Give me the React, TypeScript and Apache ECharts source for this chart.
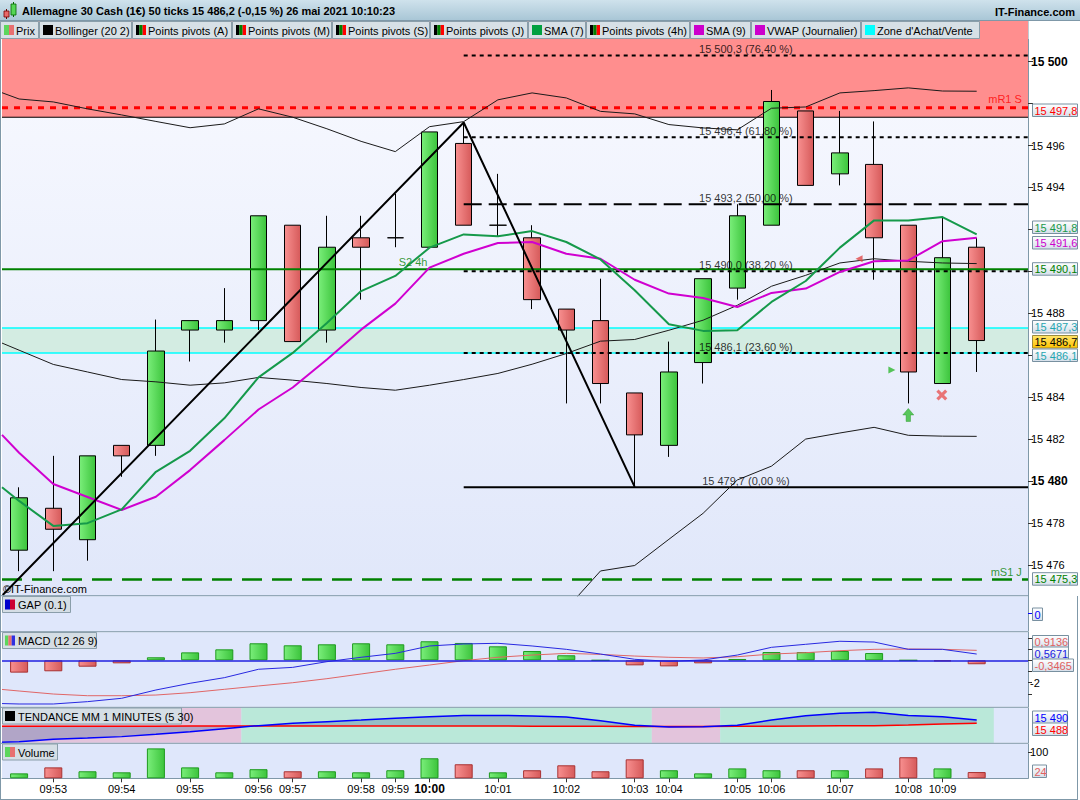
import React, { useEffect, useRef } from 'react';
import * as echarts from 'echarts';

const FONT = '"Liberation Sans", Arial, sans-serif';

// ---------- data ----------
const timeLabels = ['', '09:53', '', '09:54', '', '09:55', '', '09:56', '09:57', '', '09:58', '09:59', '10:00', '', '10:01', '', '10:02', '', '10:03', '10:04', '', '10:05', '10:06', '', '10:07', '', '10:08', '10:09', '', ''];

// [open, close, low, high]
const candles = [
  [15476.7, 15479.2, 15475.7, 15479.7],
  [15478.7, 15477.7, 15475.7, 15481.2],
  [15477.2, 15481.2, 15476.2, 15481.2],
  [15481.7, 15481.2, 15480.2, 15481.7],
  [15481.7, 15486.2, 15481.2, 15487.7],
  [15487.2, 15487.65, 15485.7, 15487.65],
  [15487.2, 15487.65, 15486.6, 15489.2],
  [15487.65, 15492.65, 15487.2, 15492.65],
  [15492.2, 15486.65, 15486.65, 15492.2],
  [15487.2, 15491.15, 15486.6, 15492.65],
  [15491.6, 15491.15, 15488.65, 15492.65],
  [15491.6, 15491.6, 15491.15, 15493.7],
  [15491.15, 15496.65, 15491.15, 15496.65],
  [15496.1, 15492.2, 15492.2, 15497.1],
  [15492.2, 15492.2, 15491.65, 15494.65],
  [15491.6, 15488.65, 15488.2, 15492.2],
  [15488.2, 15487.2, 15483.7, 15488.2],
  [15487.65, 15484.65, 15483.7, 15489.65],
  [15484.2, 15482.2, 15479.75, 15484.2],
  [15481.7, 15485.2, 15481.15, 15486.65],
  [15485.65, 15489.65, 15484.65, 15489.65],
  [15489.2, 15492.65, 15488.65, 15493.2],
  [15492.2, 15498.1, 15492.2, 15498.65],
  [15497.65, 15494.1, 15494.1, 15497.65],
  [15494.65, 15495.65, 15494.1, 15497.65],
  [15495.1, 15491.6, 15489.6, 15497.15],
  [15492.2, 15485.2, 15483.7, 15492.2],
  [15484.65, 15490.65, 15484.65, 15492.6],
  [15491.15, 15486.7, 15485.2, 15491.6],
];

const bollUpper = [15498.22, 15498.08, 15497.75, 15497.46, 15497.15, 15496.85, 15497.03, 15497.75, 15497.35, 15496.8, 15496.2, 15495.71, 15496.9, 15497.14, 15498.18, 15498.51, 15498.27, 15497.63, 15497.51, 15497.0, 15496.84, 15496.75, 15497.78, 15497.84, 15498.51, 15498.62, 15498.75, 15498.6, 15498.59];
const bollMiddle = [15486.24, 15485.56, 15485.2, 15484.84, 15484.73, 15484.57, 15484.68, 15484.94, 15484.81, 15484.65, 15484.46, 15484.33, 15484.57, 15484.84, 15485.13, 15485.57, 15486.08, 15486.67, 15486.75, 15487.19, 15487.67, 15488.38, 15489.29, 15489.81, 15490.4, 15490.6, 15490.48, 15490.4, 15490.37];
const bollLower = [15474.3, 15473.0, 15472.6, 15472.2, 15472.3, 15472.3, 15472.3, 15472.1, 15472.3, 15472.5, 15472.7, 15473.0, 15472.2, 15472.5, 15472.1, 15472.5, 15473.9, 15475.71, 15475.97, 15477.22, 15478.46, 15480.05, 15480.71, 15482.0, 15482.29, 15482.56, 15482.18, 15482.14, 15482.13];
const sma7 = [15479.05, 15477.86, 15477.99, 15478.65, 15480.44, 15481.44, 15482.99, 15484.94, 15486.11, 15487.54, 15489.06, 15489.78, 15491.13, 15491.76, 15491.67, 15491.92, 15491.4, 15490.57, 15489.1, 15487.48, 15487.16, 15487.19, 15488.54, 15489.54, 15491.13, 15492.43, 15492.43, 15492.59, 15491.76];
const sma9 = [15481.35, 15479.86, 15479.24, 15478.62, 15479.25, 15480.52, 15481.95, 15483.41, 15484.46, 15485.8, 15487.22, 15488.46, 15490.18, 15490.84, 15491.35, 15491.4, 15490.84, 15490.6, 15489.6, 15488.94, 15488.73, 15488.3, 15488.97, 15489.18, 15489.97, 15490.48, 15490.52, 15491.44, 15491.6];
// values of each line where it enters at the left edge of the plot (from earlier bars)
const edgeUpper = 15498.52;
const edgeMiddle = 15486.58;
const edgeLower = 15473.5;
const edgeSma7 = 15479.7;
const edgeSma9 = 15482.2;

const redZone = [15497.35, 15501.94];
const buyZone = [15486.1, 15487.3];
const resistLevel = 15497.8; // mR1 S
const pivot4h = 15490.1; // S2 4h
const supportLevel = 15475.3; // mS1 J

const fibStart = 13;
const fibLevels = [15500.3, 15496.4, 15493.2, 15490.0, 15486.1, 15479.7];
const fibPcts = ['76,40', '61,80', '50,00', '38,20', '23,60', '0,00'];
const trendPoints = [[-0.48, 15474.56], [13, 15497.1], [18, 15479.72]];

const signalMarks = [
  { x: 25.52, y: 15485.3, kind: 'triRight' },
  { x: 26.0, y: 15483.15, kind: 'arrowUp' },
  { x: 26.98, y: 15484.1, kind: 'cross' },
  { x: 24.56, y: 15490.6, kind: 'triLeft' },
];

const macdHist = [-1.1, -0.98, -0.57, -0.27, 0.27, 0.71, 0.98, 1.52, 1.34, 1.43, 1.52, 1.43, 1.7, 1.55, 1.25, 0.83, 0.45, 0, -0.45, -0.54, -0.27, 0.12, 0.74, 0.74, 0.83, 0.65, 0, -0.09, -0.35];
const macdLine = [-3.9, -3.9, -3.69, -3.39, -2.65, -2.05, -1.55, -0.8, -0.63, -0.12, 0.27, 0.62, 1.28, 1.46, 1.52, 1.28, 0.98, 0.56, 0.09, -0.09, 0.03, 0.47, 1.16, 1.43, 1.7, 1.63, 0.98, 0.98, 0.56];
const macdSignal = [-2.74, -3.01, -3.16, -3.16, -3.1, -2.89, -2.59, -2.29, -2.0, -1.64, -1.22, -0.8, -0.42, -0.03, 0.27, 0.47, 0.62, 0.53, 0.38, 0.27, 0.21, 0.32, 0.56, 0.68, 0.86, 0.98, 1.01, 0.98, 0.89];
const edgeMacd = -3.86;
const edgeSignal = -2.6;

const tendBlue = [15478.1, 15479.4, 15480.1, 15480.9, 15482.2, 15483.6, 15485.3, 15487.0, 15488.3, 15489.2, 15490.1, 15491.1, 15492.0, 15492.7, 15492.7, 15492.4, 15491.8, 15489.7, 15487.2, 15486.2, 15486.4, 15487.2, 15490.1, 15492.5, 15493.9, 15494.4, 15492.7, 15492.0, 15490.1];
const tendRed = [15486.6, 15486.6, 15486.7, 15486.7, 15486.7, 15486.8, 15486.8, 15486.8, 15486.8, 15486.8, 15486.8, 15486.8, 15486.8, 15486.8, 15486.8, 15486.7, 15486.7, 15486.6, 15486.5, 15486.5, 15486.5, 15486.6, 15486.7, 15486.8, 15486.9, 15487.0, 15487.4, 15487.9, 15488.3];
const edgeTendBlue = 15477.8;
const edgeTendRed = 15486.6;
const tendZones = [[-0.5, 6.5, 0], [6.5, 18.5, 1], [18.5, 20.5, 0], [20.5, 28.5, 1]];

const volumes = [19, 42, 27, 23, 115, 42, 23, 35, 27, 27, 23, 31, 77, 54, 23, 31, 50, 27, 73, 31, 19, 38, 31, 31, 31, 38, 81, 38, 24];
const volumeUp = [1, 0, 1, 1, 1, 1, 1, 1, 0, 1, 1, 1, 1, 0, 1, 0, 0, 0, 0, 1, 1, 1, 1, 0, 1, 0, 0, 1, 0];

const priceTicks = [15476, 15478, 15480, 15482, 15484, 15486, 15488, 15490, 15492, 15494, 15496, 15498, 15500];
const priceLabels = [15476, 15478, 15480, 15482, 15484, 15488, 15494, 15496, 15500];
const macdTicks = [2, 1, 0, -1, -2, -3];

const legendItems = [
  { label: 'Prix', icon: ['#5CD65C', '#E87070'] },
  { label: 'Bollinger (20 2)', icon: ['#000000'] },
  { label: 'Points pivots (A)', icon: ['#000000', '#008000', '#FF0000'] },
  { label: 'Points pivots (M)', icon: ['#000000', '#008000', '#FF0000'] },
  { label: 'Points pivots (S)', icon: ['#000000', '#008000', '#FF0000'] },
  { label: 'Points pivots (J)', icon: ['#000000', '#008000', '#FF0000'] },
  { label: 'SMA (7)', icon: ['#00A040'] },
  { label: 'Points pivots (4h)', icon: ['#000000', '#008000', '#FF0000'] },
  { label: 'SMA (9)', icon: ['#CC00CC'] },
  { label: 'VWAP (Journalier)', icon: ['#CC00CC'] },
  { label: "Zone d'Achat/Vente", icon: ['#00FFFF'] },
];
const legendX = [0, 39, 132, 232, 332, 430, 528, 586, 690, 751, 861, 980];

const panelLabels = [
  { label: 'GAP (0.1)', icon: ['#0000CC', '#CC0033'], y: 596.5, w: 68 },
  { label: 'MACD (12 26 9)', icon: ['#5CD65C', '#E87070', '#3030E0'], y: 632.5, w: 94 },
  { label: 'TENDANCE MM 1 MINUTES (5 30)', icon: ['#000000'], y: 708, w: 179 },
  { label: 'Volume', icon: ['#5CD65C', '#E87070'], y: 744, w: 55 },
];

const axisBoxes = [
  { text: '15 497,8', color: '#FF0000', y: 104, w: 45 },
  { text: '15 491,8', color: '#1A9A4A', y: 221, w: 45 },
  { text: '15 491,6', color: '#CC00CC', y: 236.5, w: 45 },
  { text: '15 490,1', color: '#008000', y: 262.7, w: 45 },
  { text: '15 487,3', color: '#1FA6B0', y: 320.5, w: 45 },
  { text: '15 486,7', color: '#000000', y: 335.5, w: 45, hi: true },
  { text: '15 486,1', color: '#1FA6B0', y: 349, w: 45 },
  { text: '15 475,3', color: '#008000', y: 572.7, w: 45 },
  { text: '0', color: '#0000FF', y: 608, w: 10 },
  { text: '0,9136', color: '#E06060', y: 635.5, w: 36 },
  { text: '0,5671', color: '#2020E0', y: 647, w: 36 },
  { text: '-0,3465', color: '#E06060', y: 659, w: 41 },
  { text: '15 490', color: '#0000FF', y: 711, w: 35 },
  { text: '15 488', color: '#FF0000', y: 723, w: 35 },
  { text: '24', color: '#E06060', y: 765, w: 14 },
];

// ---------- layout ----------
const GRIDS = [
  { top: 21, height: 574.7 },
  { top: 596.2, height: 35 },
  { top: 632.2, height: 74.6 },
  { top: 707.8, height: 35 },
  { top: 743.8, height: 34.5 },
];
const PRICE_MIN = 15474.53;
const PRICE_MAX = 15501.94;
const TEND_MIN = 15477.47;
const TEND_MAX = 15496.91;
const X_MIN = -0.5;
const X_MAX = 29.5;

const fmtNum = (v: number, d: number) => {
  const s = Math.abs(v).toFixed(d);
  const [i, dec] = s.split('.');
  return (v < 0 ? '-' : '') + i.replace(/\B(?=(\d{3})+(?!\d))/g, ' ') + (dec ? ',' + dec : '');
};

// pairs [x, y] with the left-edge entry point first
const withEdge = (edge: number, values: number[]) => [[X_MIN, edge], ...values.map((v, i) => [i, v])];

function buildOption() {
  const grad = (a: string, b: string, horiz = true) =>
    new echarts.graphic.LinearGradient(0, 0, horiz ? 1 : 0, horiz ? 0 : 1, [
      { offset: 0, color: a },
      { offset: 1, color: b },
    ]);
  const upFill = () => grad('#7AEE7A', '#3CC43C');
  const downFill = () => grad('#F89090', '#D65A5A');
  const cats = timeLabels.map((_, i) => 'c' + i);
  const hasLabel = (i: number) => timeLabels[i] !== '';

  const grid = GRIDS.map((g, k) => ({
    left: 2,
    right: 52,
    top: g.top,
    height: g.height,
    show: true,
    borderWidth: 0,
    outerBoundsMode: 'none',
    backgroundColor: k === 0 ? grad('#F9FAFF', '#E0E7FA', false) : '#DFE7FB',
  }));

  const xAxis: any[] = [
    { type: 'category', gridIndex: 0, data: cats, show: false, boundaryGap: true },
    { type: 'value', gridIndex: 0, min: X_MIN, max: X_MAX, show: false },
    { type: 'category', gridIndex: 1, data: cats, show: false, boundaryGap: true },
    { type: 'category', gridIndex: 2, data: cats, show: false, boundaryGap: true },
    { type: 'value', gridIndex: 3, min: X_MIN, max: X_MAX, show: false },
    {
      type: 'category', gridIndex: 4, data: cats, boundaryGap: true,
      axisLine: { show: true, onZero: false, lineStyle: { color: '#7F98A8', width: 1 } },
      axisTick: { show: true, alignWithLabel: true, length: 4, interval: (i: number) => hasLabel(i), lineStyle: { color: '#333' } },
      axisLabel: {
        interval: (i: number) => hasLabel(i),
        formatter: (_v: string, i: number) => (timeLabels[i] === '10:00' ? '{b|10:00}' : timeLabels[i]),
        color: '#000', fontSize: 11, fontFamily: FONT, margin: 5,
        rich: { b: { fontWeight: 'bold', fontSize: 12, fontFamily: FONT, color: '#000' } },
      },
      splitLine: { show: false },
    },
    { type: 'value', gridIndex: 2, min: X_MIN, max: X_MAX, show: false },
  ];

  const axisLine = { show: true, onZero: false, lineStyle: { color: '#7F98A8', width: 1 } };
  const tickStyle = { color: '#333', width: 1 };
  const yAxis: any[] = [
    {
      type: 'value', gridIndex: 0, position: 'right', min: PRICE_MIN, max: PRICE_MAX,
      splitLine: { show: false }, axisLine,
      axisTick: { show: true, length: 5, customValues: priceTicks, lineStyle: tickStyle },
      axisLabel: {
        customValues: priceLabels, margin: 3, color: '#000', fontSize: 11, fontFamily: FONT,
        formatter: (v: number) => (v % 10 === 0 ? `{b|${fmtNum(v, 0)}}` : fmtNum(v, 0)),
        rich: { b: { fontWeight: 'bold', fontSize: 12, fontFamily: FONT, color: '#000' } },
      },
    },
    {
      type: 'value', gridIndex: 1, position: 'right', min: -1, max: 1,
      splitLine: { show: false }, axisLine,
      axisTick: { show: true, length: 4, customValues: [0], lineStyle: { color: '#0000FF', width: 1 } },
      axisLabel: { show: false },
    },
    {
      type: 'value', gridIndex: 2, position: 'right', min: -4.15, max: 2.51,
      splitLine: { show: false }, axisLine,
      axisTick: { show: true, length: 4, customValues: macdTicks, lineStyle: tickStyle },
      axisLabel: { customValues: [-2], margin: 2, color: '#000', fontSize: 11, fontFamily: FONT },
    },
    {
      type: 'value', gridIndex: 3, position: 'right', min: TEND_MIN, max: TEND_MAX,
      splitLine: { show: false }, axisLine, axisTick: { show: false }, axisLabel: { show: false },
    },
    {
      type: 'value', gridIndex: 4, position: 'right', min: 0, max: 132.7,
      splitLine: { show: false }, axisLine,
      axisTick: { show: true, length: 4, customValues: [100], lineStyle: tickStyle },
      axisLabel: { customValues: [100], margin: 2, color: '#000', fontSize: 11, fontFamily: FONT },
    },
  ];

  const series: any[] = [];
  const flat = (v: number, from = X_MIN) => [[from, v], [X_MAX, v]];
  const hline = (v: number, color: string, width: number, type: any, z: number, from = X_MIN) => ({
    type: 'line', xAxisIndex: 1, yAxisIndex: 0, data: flat(v, from), symbol: 'none', silent: true, z,
    lineStyle: { color, width, type },
  });

  // zones (main)
  const zones = [[redZone[0], redZone[1], '#FF8E8E'], [buyZone[0], buyZone[1], '#D3ECE2']];
  series.push({
    type: 'custom', xAxisIndex: 1, yAxisIndex: 0, silent: true, z: 1,
    data: zones.map((_z, i) => [i]),
    renderItem: (_p: any, api: any) => {
      const z = zones[api.value(0)];
      const a = api.coord([X_MIN, z[1]]);
      const b = api.coord([X_MAX, z[0]]);
      return { type: 'rect', shape: { x: a[0], y: a[1], width: b[0] - a[0], height: b[1] - a[1] }, style: { fill: z[2] } };
    },
  });
  series.push(hline(redZone[0], '#000000', 1, 'solid', 2));
  series.push(hline(resistLevel, '#FF0000', 3, [6, 6], 2));
  series.push(hline(buyZone[1], '#00FFFF', 1.5, 'solid', 2));
  series.push(hline(buyZone[0], '#00FFFF', 1.5, 'solid', 2));
  series.push(hline(supportLevel, '#008000', 2.5, [20, 10], 2));

  // candles
  series.push({
    type: 'candlestick', xAxisIndex: 0, yAxisIndex: 0, data: candles, barWidth: 17, z: 3,
    itemStyle: {
      color: upFill(), color0: downFill(), borderColor: '#000', borderColor0: '#000', borderColorDoji: '#000', borderWidth: 1,
    },
  });

  series.push(hline(pivot4h, '#008000', 2, 'solid', 4));

  // fibonacci
  const fibDash = [[4, 4], [4, 4], [18, 7], [4, 4], [4, 4], 'solid'];
  fibLevels.forEach((lv, k) => series.push(hline(lv, '#000000', 2, fibDash[k], 5, fibStart)));

  // bollinger + MAs
  const valLine = (data: number[][], color: string, width: number, z: number, xIdx = 1, yIdx = 0) => ({
    type: 'line', xAxisIndex: xIdx, yAxisIndex: yIdx, data, symbol: 'none', silent: true, z,
    lineStyle: { color, width },
  });
  series.push(valLine(withEdge(edgeUpper, bollUpper), '#1A1A1A', 1, 5));
  series.push(valLine(withEdge(edgeMiddle, bollMiddle), '#1A1A1A', 1, 5));
  series.push(valLine(withEdge(edgeLower, bollLower), '#1A1A1A', 1, 5));
  series.push(valLine(withEdge(edgeSma9, sma9), '#D000D0', 2, 6));
  series.push(valLine(withEdge(edgeSma7, sma7), '#15994A', 2, 6));

  // trend lines
  series.push({
    type: 'line', xAxisIndex: 1, yAxisIndex: 0, data: trendPoints, symbol: 'none', silent: true, z: 7,
    lineStyle: { color: '#000', width: 2 },
  });

  // text labels on levels
  const fibMid = (fibStart + X_MAX) / 2;
  const labelPts: any[] = fibLevels.map((lv, k) => ({
    value: [fibMid, lv],
    label: { formatter: `${fmtNum(lv, 1)} (${fibPcts[k]} %)`, color: '#000', distance: 1 },
  }));
  labelPts.push({ value: [29.32, resistLevel], label: { formatter: 'mR1 S', color: '#FF0000', align: 'right', distance: 3 } });
  labelPts.push({ value: [11.52, pivot4h], label: { formatter: 'S2 4h', color: '#008000', distance: 2 } });
  labelPts.push({ value: [29.32, supportLevel], label: { formatter: 'mS1 J', color: '#008000', align: 'right', distance: 2 } });
  series.push({
    type: 'scatter', xAxisIndex: 1, yAxisIndex: 0, symbolSize: 0, silent: true, z: 8,
    data: labelPts,
    label: { show: true, position: 'top', fontSize: 11, fontFamily: FONT },
  });

  // signal markers
  const markStyle: Record<string, any> = {
    triRight: { symbol: 'triangle', symbolRotate: -90, symbolSize: [7, 7], itemStyle: { color: '#2EB82E' } },
    triLeft: { symbol: 'triangle', symbolRotate: 90, symbolSize: [7, 7], itemStyle: { color: '#E04848' } },
    arrowUp: { symbol: 'path://M5,0 L10,5 L7,5 L7,10 L3,10 L3,5 L0,5 Z', symbolSize: [11, 13], itemStyle: { color: '#33BB33', borderColor: '#1E8E1E', borderWidth: 0.5 } },
    cross: { symbol: 'path://M2,0 L5,3 L8,0 L10,2 L7,5 L10,8 L8,10 L5,7 L2,10 L0,8 L3,5 L0,2 Z', symbolSize: [11, 11], itemStyle: { color: '#E85555' } },
  };
  series.push({
    type: 'scatter', xAxisIndex: 1, yAxisIndex: 0, silent: true, z: 9,
    data: signalMarks.map((m) => ({ value: [m.x, m.y], ...markStyle[m.kind] })),
  });

  // MACD
  series.push({
    type: 'bar', xAxisIndex: 3, yAxisIndex: 2, barWidth: 18, z: 2,
    data: macdHist.map((v) => ({
      value: v,
      itemStyle: v >= 0 ? { color: upFill(), borderColor: '#1E9A1E', borderWidth: 1 } : { color: downFill(), borderColor: '#A83232', borderWidth: 1 },
    })),
    markLine: {
      silent: true, symbol: 'none', label: { show: false },
      lineStyle: { color: '#2020E0', width: 1.5, type: 'solid' },
      data: [{ yAxis: 0 }],
    },
  });
  series.push(valLine(withEdge(edgeSignal, macdSignal), '#E06666', 1, 3, 6, 2));
  series.push(valLine(withEdge(edgeMacd, macdLine), '#2828E0', 1, 4, 6, 2));

  // TENDANCE
  const bluePts = withEdge(edgeTendBlue, tendBlue);
  const redPts = withEdge(edgeTendRed, tendRed);
  series.push({
    type: 'custom', xAxisIndex: 4, yAxisIndex: 3, silent: true, z: 1,
    data: tendZones.map((_z, i) => [i]),
    renderItem: (_p: any, api: any) => {
      const z = tendZones[api.value(0)];
      const a = api.coord([z[0], TEND_MAX]);
      const b = api.coord([z[1], TEND_MIN]);
      return { type: 'rect', shape: { x: a[0], y: a[1], width: b[0] - a[0], height: b[1] - a[1] }, style: { fill: z[2] ? '#BAE8D9' : '#E3C4DC' } };
    },
  });
  series.push({
    type: 'custom', xAxisIndex: 4, yAxisIndex: 3, silent: true, z: 2,
    data: [[0]],
    renderItem: (_p: any, api: any) => {
      const pts: number[][] = [];
      bluePts.forEach((p) => pts.push(api.coord(p)));
      for (let i = redPts.length - 1; i >= 0; i--) pts.push(api.coord(redPts[i]));
      return { type: 'polygon', shape: { points: pts }, style: { fill: 'rgba(84,110,161,0.35)' } };
    },
  });
  series.push(valLine(redPts, '#FF0000', 1.5, 3, 4, 3));
  series.push(valLine(bluePts, '#0000FF', 1.5, 4, 4, 3));

  // Volume
  series.push({
    type: 'bar', xAxisIndex: 5, yAxisIndex: 4, barWidth: 18, z: 2,
    data: volumes.map((v, i) => ({
      value: v,
      itemStyle: volumeUp[i] ? { color: upFill(), borderColor: '#1E9A1E', borderWidth: 1 } : { color: downFill(), borderColor: '#A83232', borderWidth: 1 },
    })),
  });

  // ---------- graphic overlays ----------
  const graphic: any[] = [];
  const Z = 100;
  // header
  graphic.push({ type: 'rect', z: Z, shape: { x: 0, y: 0, width: 1080, height: 21 }, style: { fill: grad('#CFE2EC', '#A7C5D5', false) } });
  graphic.push({ type: 'line', z: Z, shape: { x1: 0, y1: 20.5, x2: 1080, y2: 20.5 }, style: { stroke: '#7F98A8', lineWidth: 1 } });
  graphic.push({ type: 'line', z: Z, shape: { x1: 6.5, y1: 9, x2: 6.5, y2: 19 }, style: { stroke: '#600', lineWidth: 1 } });
  graphic.push({ type: 'rect', z: Z, shape: { x: 4, y: 11, width: 5, height: 6 }, style: { fill: '#E86A6A', stroke: '#700', lineWidth: 0.8 } });
  graphic.push({ type: 'line', z: Z, shape: { x1: 13.5, y1: 2, x2: 13.5, y2: 17 }, style: { stroke: '#060', lineWidth: 1 } });
  graphic.push({ type: 'rect', z: Z, shape: { x: 11, y: 4, width: 5, height: 11 }, style: { fill: '#55D655', stroke: '#060', lineWidth: 0.8 } });
  graphic.push({
    type: 'text', z: Z + 1, x: 22, y: 11,
    style: { text: 'Allemagne 30 Cash (1€) 50 ticks 15 486,2 (-0,15 %) 26 mai 2021 10:10:23', fill: '#000', font: `bold 11px ${FONT}`, textVerticalAlign: 'middle', textAlign: 'left' },
  });
  graphic.push({
    type: 'text', z: Z + 1, x: 1075, y: 12,
    style: { text: 'IT-Finance.com', fill: '#000', font: `bold 11px ${FONT}`, textVerticalAlign: 'middle', textAlign: 'right' },
  });

  const iconBox = (x: number, y: number, colors: string[]) => {
    const w = 10 / colors.length;
    colors.forEach((c, k) => graphic.push({ type: 'rect', z: Z + 1, shape: { x: x + k * w, y, width: w, height: 10 }, style: { fill: c } }));
  };
  // legend bar
  legendItems.forEach((it, k) => {
    const x0 = legendX[k];
    const w = legendX[k + 1] - x0;
    graphic.push({ type: 'rect', z: Z, shape: { x: x0 + 0.5, y: 21.5, width: w - 1, height: 17 }, style: { fill: '#D7E0E6', stroke: '#8A9EAA', lineWidth: 1 } });
    iconBox(x0 + 4, 25, it.icon);
    graphic.push({ type: 'text', z: Z + 1, x: x0 + 16, y: 30.5, style: { text: it.label, fill: '#000', font: `11px ${FONT}`, textVerticalAlign: 'middle' } });
  });
  graphic.push({ type: 'rect', z: Z, shape: { x: 1028.5, y: 21, width: 52, height: 18 }, style: { fill: '#FFFFFF' } });

  // panel separators & frame
  [595.7, 631.7, 707.3, 743.3].forEach((y) =>
    graphic.push({ type: 'line', z: 50, shape: { x1: 0, y1: y, x2: 1028, y2: y }, style: { stroke: '#7F98A8', lineWidth: 1 } }),
  );
  graphic.push({ type: 'line', z: 50, shape: { x1: 0.5, y1: 21, x2: 0.5, y2: 800 }, style: { stroke: '#7F98A8', lineWidth: 1 } });
  graphic.push({ type: 'line', z: 50, shape: { x1: 0, y1: 799.5, x2: 1078, y2: 799.5 }, style: { stroke: '#7F98A8', lineWidth: 1 } });
  graphic.push({ type: 'line', z: 50, shape: { x1: 1077.5, y1: 596, x2: 1077.5, y2: 800 }, style: { stroke: '#7F98A8', lineWidth: 1 } });

  // panel labels
  panelLabels.forEach((p) => {
    graphic.push({ type: 'rect', z: Z, shape: { x: 2.5, y: p.y, width: p.w, height: 16 }, style: { fill: '#D5DEE5', stroke: '#8A9EAA', lineWidth: 1 } });
    iconBox(5, p.y + 3, p.icon);
    graphic.push({ type: 'text', z: Z + 1, x: 18, y: p.y + 8.5, style: { text: p.label, fill: '#000', font: `11px ${FONT}`, textVerticalAlign: 'middle' } });
  });

  graphic.push({ type: 'text', z: Z, x: 3, y: 589, style: { text: '©IT-Finance.com', fill: '#000', font: `11px ${FONT}`, textVerticalAlign: 'middle' } });

  // axis value boxes
  axisBoxes.forEach((b) => {
    graphic.push({
      type: 'rect', z: Z, shape: { x: 1032.5, y: b.y, width: b.w, height: 12.5 },
      style: { fill: b.hi ? grad('#FFE46A', '#FFC400', false) : grad('#FFFFFF', '#D5DFEA', false), stroke: b.hi ? '#9A8A40' : '#7890A0', lineWidth: 1 },
    });
    graphic.push({ type: 'text', z: Z + 1, x: 1034.5, y: b.y + 6.5, style: { text: b.text, fill: b.color, font: `11px ${FONT}`, textVerticalAlign: 'middle' } });
  });

  return {
    animation: false,
    backgroundColor: '#FFFFFF',
    textStyle: { fontFamily: FONT },
    grid,
    xAxis,
    yAxis,
    series,
    graphic: { elements: graphic },
  };
}

export default function App() {
  const ref = useRef<HTMLDivElement>(null);
  useEffect(() => {
    document.body.style.margin = '0';
    const chart = echarts.init(ref.current!, null, { renderer: 'svg' });
    chart.setOption(buildOption() as any);
    return () => chart.dispose();
  }, []);
  return <div ref={ref} style={{ width: 1080, height: 800 }} />;
}
